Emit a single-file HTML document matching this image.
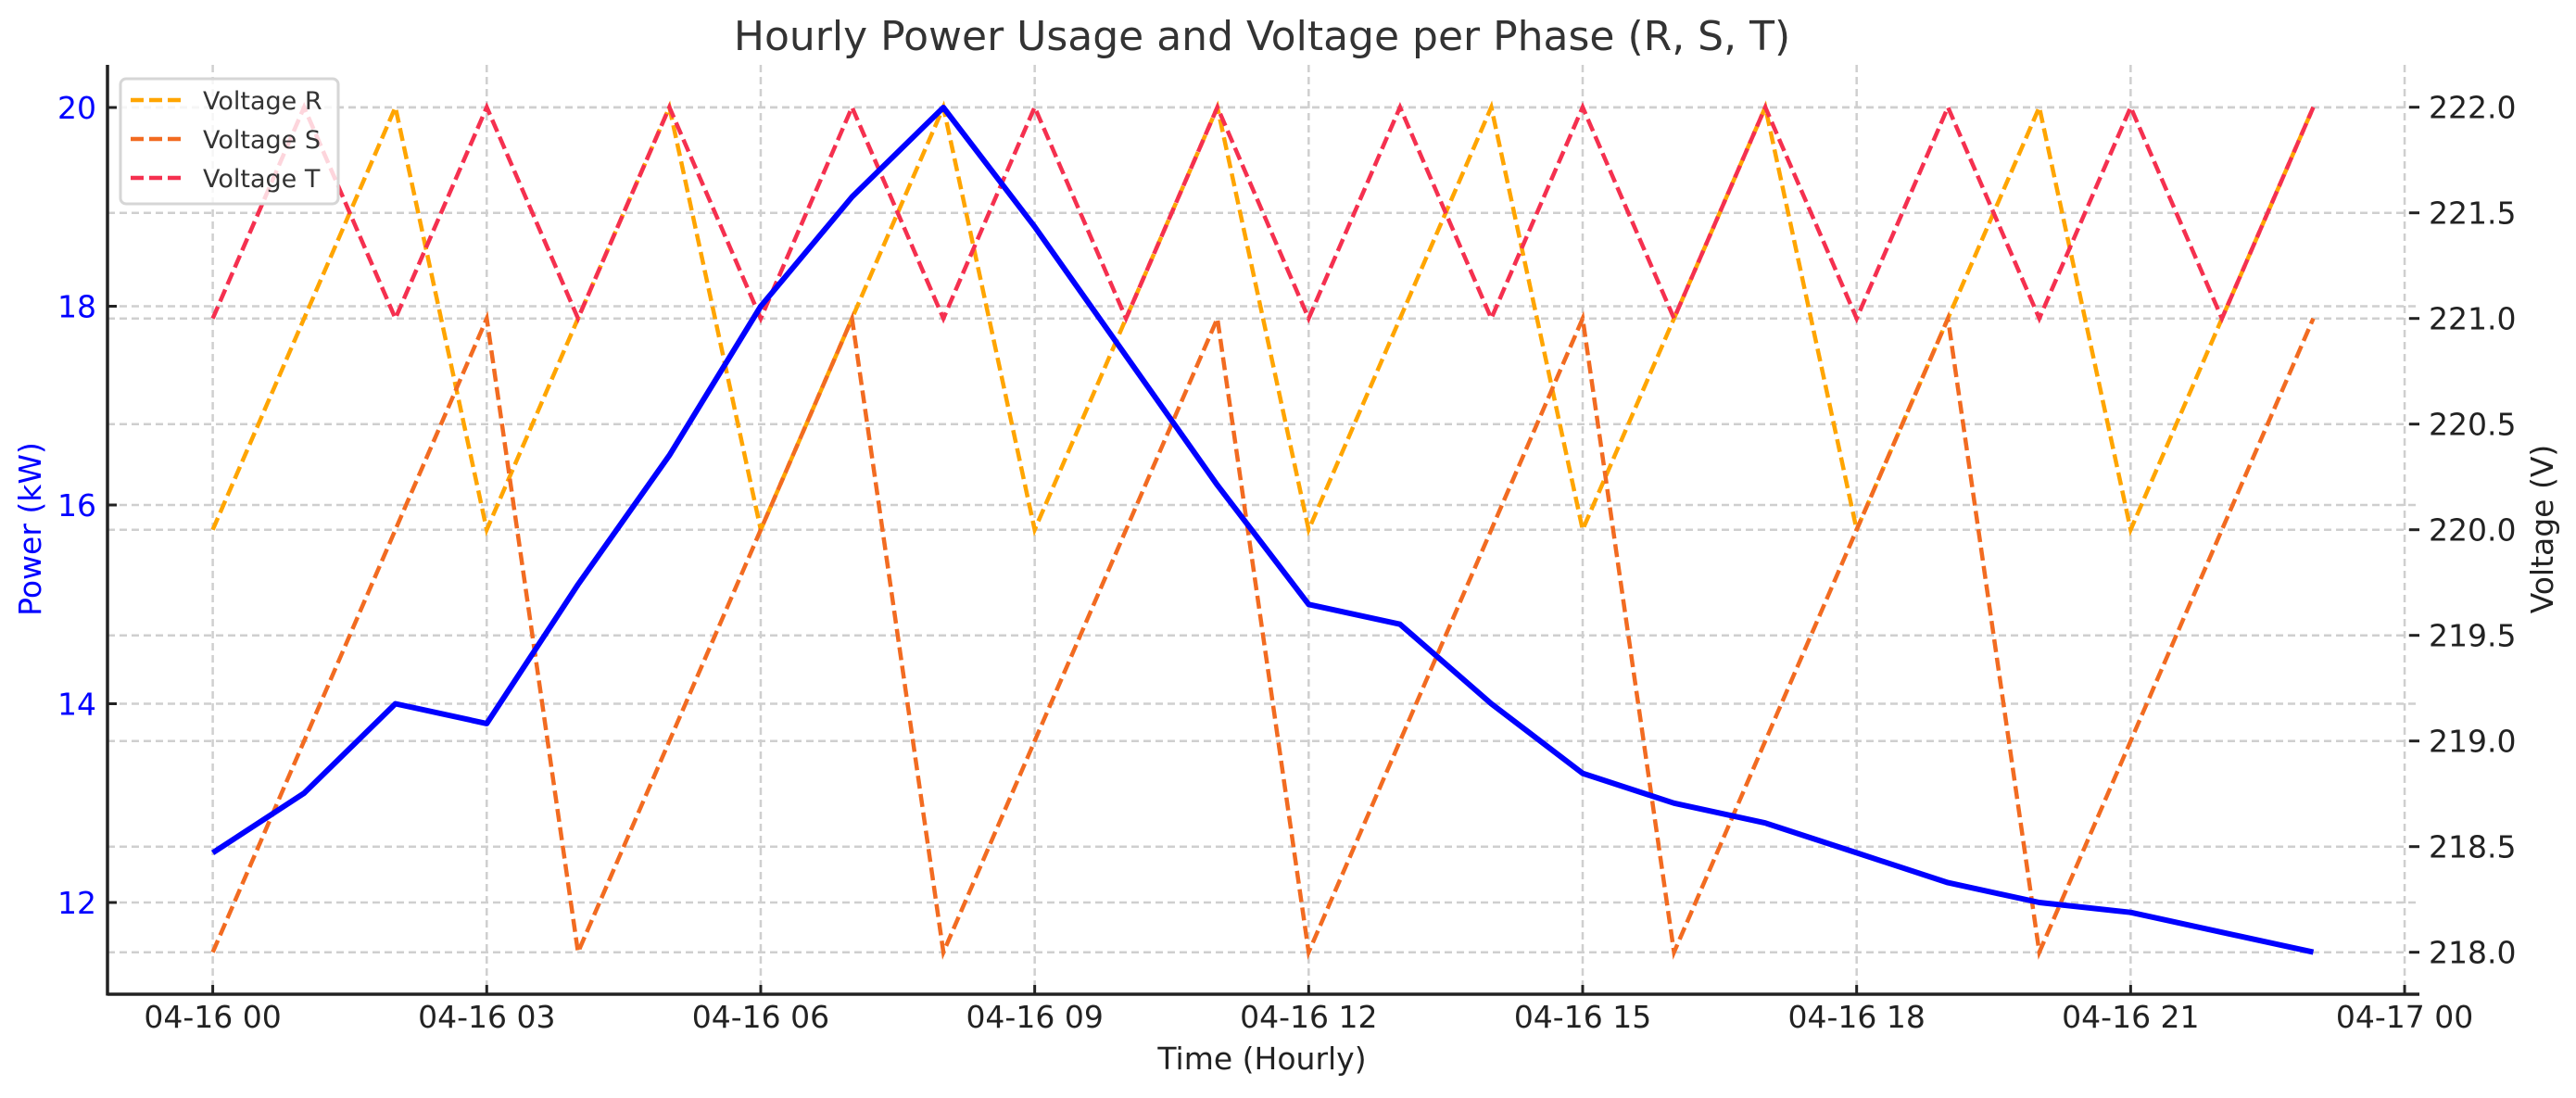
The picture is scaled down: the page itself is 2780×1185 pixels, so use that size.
<!DOCTYPE html>
<html><head><meta charset="utf-8"><style>
html,body{margin:0;padding:0;background:#fff;}
svg text{font-family:"DejaVu Sans","Liberation Sans",sans-serif;}
</style></head><body>
<svg id="chart" width="2780" height="1180" viewBox="0 0 2780 1180" xmlns="http://www.w3.org/2000/svg">
<rect x="0" y="0" width="2780" height="1180" fill="#fff"/>
<text x="1362" y="54" font-size="44" fill="#333" text-anchor="middle">Hourly Power Usage and Voltage per Phase (R, S, T)</text>
<g id="grid"></g>
<g id="series"></g>
<g id="axes"></g>
<text x="1362" y="1154" font-size="33" fill="#222" text-anchor="middle">Time (Hourly)</text>
<text transform="translate(44,571) rotate(-90)" font-size="33" fill="#0000ff" text-anchor="middle">Power (kW)</text>
<text transform="translate(2755,571) rotate(-90)" font-size="33" fill="#222" text-anchor="middle">Voltage (V)</text>
<g>
<rect x="130" y="85" width="235" height="135" rx="6" fill="#fff" fill-opacity="0.8" stroke="#d6d6d6" stroke-width="3"/>
<line x1="141" y1="108" x2="197" y2="108" stroke="#FFA500" stroke-width="4.5" stroke-dasharray="14,6"/>
<text x="219" y="118" font-size="27" fill="#333">Voltage R</text>
<line x1="141" y1="150" x2="197" y2="150" stroke="#F26B21" stroke-width="4.5" stroke-dasharray="14,6"/>
<text x="219" y="160" font-size="27" fill="#333">Voltage S</text>
<line x1="141" y1="192" x2="197" y2="192" stroke="#F5304F" stroke-width="4.5" stroke-dasharray="14,6"/>
<text x="219" y="202" font-size="27" fill="#333">Voltage T</text>
</g>
</svg>
<script>
const hours = [0,1,2,3,4,5,6,7,8,9,10,11,12,13,14,15,16,17,18,19,20,21,22,23];
const power = [12.5,13.1,14.0,13.8,15.2,16.5,18.0,19.1,20.0,18.8,17.5,16.2,15.0,14.8,14.0,13.3,13.0,12.8,12.5,12.2,12.0,11.9,11.7,11.5];
const voltageR = [220,221,222,220,221,222,220,221,222,220,221,222,220,221,222,220,221,222,220,221,222,220,221,222];
const voltageS = [218,219,220,221,218,219,220,221,218,219,220,221,218,219,220,221,218,219,220,221,218,219,220,221];
const voltageT = [221,222,221,222,221,222,221,222,221,222,221,222,221,222,221,222,221,222,221,222,221,222,221,222];
const xTickHours = [0,3,6,9,12,15,18,21,24];
const xTickLabels = ["04-16 00","04-16 03","04-16 06","04-16 09","04-16 12","04-16 15","04-16 18","04-16 21","04-17 00"];
const powerTicks = [12,14,16,18,20];
const voltTicks = [218.0,218.5,219.0,219.5,220.0,220.5,221.0,221.5,222.0];

const X0=116, X1=2611, Y0=70, Y1=1073;
const xs = h => 229.6 + h*98.56;
const yp = v => 974 - (v-12)*107.25;
const yv = v => 1027.7 - (v-218)*228;
const NS="http://www.w3.org/2000/svg";
function mk(tag, attrs, parent){const e=document.createElementNS(NS,tag);for(const k in attrs)e.setAttribute(k,attrs[k]);parent.appendChild(e);return e;}
const grid=document.getElementById('grid'), series=document.getElementById('series'), axes=document.getElementById('axes');

xTickHours.forEach((h,i)=>{
  const g=mk('line',{x1:xs(h),x2:xs(h),y1:Y0,y2:Y1,stroke:'#cfcfcf','stroke-width':2.5,'stroke-dasharray':'8,5'},grid);
  
  
  const t=mk('line',{x1:xs(h),x2:xs(h),y1:Y1,y2:Y1-10,stroke:'#222','stroke-width':3},axes);
  
  
  const l=mk('text',{x:xs(h),y:1109,'font-size':33,fill:'#222','text-anchor':'middle'},axes);
  l.textContent=xTickLabels[i];
  
  
});
powerTicks.forEach(v=>{
  const g=mk('line',{x1:X0,x2:X1,y1:yp(v),y2:yp(v),stroke:'#cfcfcf','stroke-width':2.5,'stroke-dasharray':'8,5'},grid);
  
  
  const t=mk('line',{x1:X0,x2:X0+10,y1:yp(v),y2:yp(v),stroke:'#222','stroke-width':3},axes);
  
  
  const l=mk('text',{x:104,y:yp(v)+12,'font-size':33,fill:'#0000ff','text-anchor':'end'},axes);
  l.textContent=String(v);
  
  
});
voltTicks.forEach(v=>{
  const g=mk('line',{x1:X0,x2:X1,y1:yv(v),y2:yv(v),stroke:'#cfcfcf','stroke-width':2.5,'stroke-dasharray':'8,5'},grid);
  
  
  const t=mk('line',{x1:2600,x2:2611,y1:yv(v),y2:yv(v),stroke:'#222','stroke-width':3},axes);
  
  
  const l=mk('text',{x:2621,y:yv(v)+12,'font-size':33,fill:'#222','text-anchor':'start'},axes);
  l.textContent=v.toFixed(1);
  
  
});
const la=mk('line',{x1:X0,x2:X0,y1:Y0,y2:Y1+1.5,stroke:'#222','stroke-width':3.5},axes);


const ba=mk('line',{x1:X0,x2:X1,y1:Y1,y2:Y1,stroke:'#222','stroke-width':3.5},axes);



function pts(arr,yf){return arr.map((v,i)=>xs(hours[i]).toFixed(1)+','+yf(v).toFixed(1)).join(' ');}
const lr=mk('polyline',{points:pts(voltageR,yv),fill:'none',stroke:'#FFA500','stroke-width':4.5,'stroke-dasharray':'14,6'},series);


const ls=mk('polyline',{points:pts(voltageS,yv),fill:'none',stroke:'#F26B21','stroke-width':4.5,'stroke-dasharray':'14,6'},series);


const lt=mk('polyline',{points:pts(voltageT,yv),fill:'none',stroke:'#F5304F','stroke-width':4.5,'stroke-dasharray':'14,6'},series);


const lp=mk('polyline',{points:pts(power,yp),fill:'none',stroke:'#0000ff','stroke-width':6,'stroke-linejoin':'round'},series);


</script>
</body></html>
